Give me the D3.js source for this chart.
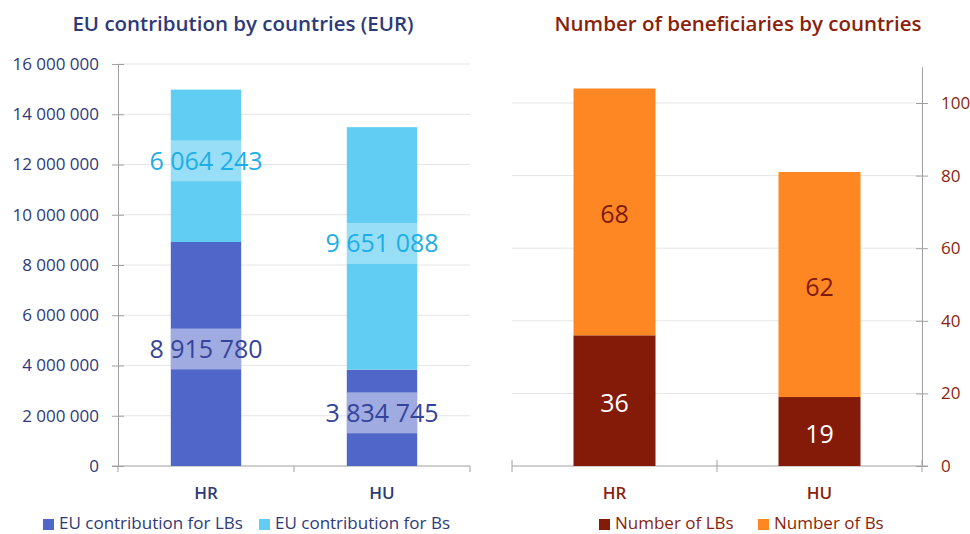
<!DOCTYPE html>
<html>
<head>
<meta charset="utf-8">
<script src="https://cdn.jsdelivr.net/npm/d3@7"></script>
<style>
  html, body { margin: 0; padding: 0; background: #fff; }
  svg { display: block; font-family: "Open Sans", "Noto Sans", sans-serif; }
</style>
</head>
<body>
<svg id="chart" width="970" height="534"></svg>
<script>
// Countries shown in both panels
const countries = ["HR", "HU"];

// EU contribution (EUR)
const contribLBs = [8915780, 3834745];
const contribBs = [6064243, 9651088];
const contribTicks = [0, 2000000, 4000000, 6000000, 8000000, 10000000, 12000000, 14000000, 16000000];

// Number of beneficiaries
const numLBs = [36, 19];
const numBs = [68, 62];
const numTicks = [0, 20, 40, 60, 80, 100];

const svg = d3.select("#chart");
const fmtSpace = v => d3.format(",")(v).replace(/,/g, " ");

const C = {
  navy: "#2E3A78",
  lb: "#5067C9",
  b: "#61CDF3",
  lbLabel: "#34449A",
  bLabel: "#1DAEE6",
  red: "#8A1F0C",
  lbRed: "#841A08",
  orange: "#FF8723",
  grid: "#E6E6E6",
  axis: "#A0A0A0"
};

// ---------- Left panel: EU contribution ----------
(function () {
  const x = d3.scaleBand().domain(countries).range([118, 470]).paddingInner(0.6).paddingOuter(0.3);
  const y = d3.scaleLinear().domain([0, 16000000]).range([466, 64]);
  const g = svg.append("g");

  g.append("text").attr("x", 243).attr("y", 31).attr("text-anchor", "middle")
    .attr("font-size", 20.5).attr("font-weight", 600).attr("fill", C.navy)
    .text("EU contribution by countries (EUR)");

  // gridlines
  g.selectAll(".grid").data(contribTicks.slice(1)).join("line")
    .attr("x1", 118).attr("x2", 470).attr("y1", d => y(d)).attr("y2", d => y(d))
    .attr("stroke", C.grid).attr("stroke-width", 1);

  // y axis
  const ya = g.append("g").attr("transform", "translate(118,0)")
    .call(d3.axisLeft(y).tickValues(contribTicks).tickFormat(fmtSpace).tickSizeInner(0).tickSizeOuter(0).tickPadding(19));
  ya.select(".domain").attr("stroke", C.axis);
  ya.selectAll("text").attr("font-size", 17).attr("fill", C.navy).attr("font-family", "Open Sans, sans-serif");
  ya.selectAll(".tick").append("line").attr("x1", -6).attr("x2", 6).attr("stroke", C.axis);

  // x axis
  const xa = g.append("g").attr("transform", "translate(0,466)");
  xa.append("line").attr("x1", 112).attr("x2", 470).attr("stroke", C.axis);
  const step = x.step();
  const bounds = [x.range()[0], x.range()[0] + step, x.range()[0] + 2 * step];
  xa.selectAll(".ct").data(bounds).join("line")
    .attr("x1", d => d).attr("x2", d => d).attr("y1", 0).attr("y2", 6).attr("stroke", C.axis);
  xa.selectAll(".cl").data(countries).join("text")
    .attr("x", d => x(d) + x.bandwidth() / 2).attr("y", 33).attr("text-anchor", "middle")
    .attr("font-size", 17).attr("font-weight", 600).attr("fill", C.navy).text(d => d);

  // stacked bars
  const rows = countries.map((c, i) => ({ c, lb: contribLBs[i], b: contribBs[i] }));
  const segs = [];
  rows.forEach(r => {
    segs.push({ c: r.c, y0: 0, y1: r.lb, v: r.lb, fill: C.lb, tc: C.lbLabel, bg: "rgba(255,255,255,0.45)" });
    segs.push({ c: r.c, y0: r.lb, y1: r.lb + r.b, v: r.b, fill: C.b, tc: C.bLabel, bg: "rgba(255,255,255,0.35)" });
  });
  g.selectAll(".seg").data(segs).join("rect")
    .attr("x", d => x(d.c)).attr("width", x.bandwidth())
    .attr("y", d => y(d.y1)).attr("height", d => y(d.y0) - y(d.y1))
    .attr("fill", d => d.fill);

  // value labels with a light band behind
  const lh = 41, lift = 5;
  g.selectAll(".lbg").data(segs).join("rect")
    .attr("x", d => x(d.c)).attr("width", x.bandwidth())
    .attr("y", d => (y(d.y0) + y(d.y1)) / 2 - lh / 2 - lift).attr("height", lh)
    .attr("fill", d => d.bg);
  g.selectAll(".lab").data(segs).join("text")
    .attr("x", d => x(d.c) + x.bandwidth() / 2)
    .attr("y", d => (y(d.y0) + y(d.y1)) / 2 - lift)
    .attr("dy", "0.36em").attr("text-anchor", "middle")
    .attr("font-size", 25).attr("fill", d => d.tc).text(d => fmtSpace(d.v));

  // legend
  const lg = g.append("g").attr("transform", "translate(0,524)");
  const items = [{ t: "EU contribution for LBs", c: C.lb, x: 43 }, { t: "EU contribution for Bs", c: C.b, x: 259 }];
  items.forEach(it => {
    lg.append("rect").attr("x", it.x).attr("y", -5).attr("width", 11).attr("height", 11).attr("fill", it.c);
    lg.append("text").attr("x", it.x + 16).attr("y", 5)
      .attr("font-size", 17).attr("fill", C.navy).text(it.t);
  });
})();

// ---------- Right panel: number of beneficiaries ----------
(function () {
  const x = d3.scaleBand().domain(countries).range([512, 922]).paddingInner(0.6).paddingOuter(0.3);
  const y = d3.scaleLinear().domain([0, 110]).range([466, 66.7]);
  const g = svg.append("g");

  g.append("text").attr("x", 738).attr("y", 31).attr("text-anchor", "middle")
    .attr("font-size", 20.5).attr("font-weight", 600).attr("fill", C.red)
    .text("Number of beneficiaries by countries");

  g.selectAll(".grid").data(numTicks.slice(1)).join("line")
    .attr("x1", 512).attr("x2", 922).attr("y1", d => y(d)).attr("y2", d => y(d))
    .attr("stroke", C.grid);

  const ya = g.append("g").attr("transform", "translate(922,0)")
    .call(d3.axisRight(y).tickValues(numTicks).tickSizeInner(0).tickSizeOuter(0).tickPadding(19));
  ya.select(".domain").attr("stroke", C.axis);
  ya.selectAll("text").attr("font-size", 17).attr("fill", C.red).attr("font-family", "Open Sans, sans-serif");
  ya.selectAll(".tick").append("line").attr("x1", -6).attr("x2", 6).attr("stroke", C.axis);

  const xa = g.append("g").attr("transform", "translate(0,466)");
  xa.append("line").attr("x1", 512).attr("x2", 928).attr("stroke", C.axis);
  const step = x.step();
  const bounds = [512, 512 + step, 512 + 2 * step];
  xa.selectAll(".ct").data(bounds).join("line")
    .attr("x1", d => d).attr("x2", d => d).attr("y1", -6).attr("y2", 6).attr("stroke", C.axis);
  xa.selectAll(".cl").data(countries).join("text")
    .attr("x", d => x(d) + x.bandwidth() / 2).attr("y", 33).attr("text-anchor", "middle")
    .attr("font-size", 17).attr("font-weight", 600).attr("fill", C.red).text(d => d);

  const segs = [];
  countries.forEach((c, i) => {
    segs.push({ c, y0: 0, y1: numLBs[i], v: numLBs[i], fill: C.lbRed, tc: "#ffffff" });
    segs.push({ c, y0: numLBs[i], y1: numLBs[i] + numBs[i], v: numBs[i], fill: C.orange, tc: "#7E1A08" });
  });
  g.selectAll(".seg").data(segs).join("rect")
    .attr("x", d => x(d.c)).attr("width", x.bandwidth())
    .attr("y", d => y(d.y1)).attr("height", d => y(d.y0) - y(d.y1))
    .attr("fill", d => d.fill);
  g.selectAll(".lab").data(segs).join("text")
    .attr("x", d => x(d.c) + x.bandwidth() / 2)
    .attr("y", d => (y(d.y0) + y(d.y1)) / 2 + 2)
    .attr("dy", "0.36em").attr("text-anchor", "middle")
    .attr("font-size", 25).attr("fill", d => d.tc).text(d => d.v);

  const lg = g.append("g").attr("transform", "translate(0,524)");
  const items = [{ t: "Number of LBs", c: C.lbRed, x: 599 }, { t: "Number of Bs", c: C.orange, x: 758 }];
  items.forEach(it => {
    lg.append("rect").attr("x", it.x).attr("y", -5).attr("width", 11).attr("height", 11).attr("fill", it.c);
    lg.append("text").attr("x", it.x + 16).attr("y", 5)
      .attr("font-size", 17).attr("fill", C.red).text(it.t);
  });
})();
</script>
</body>
</html>
